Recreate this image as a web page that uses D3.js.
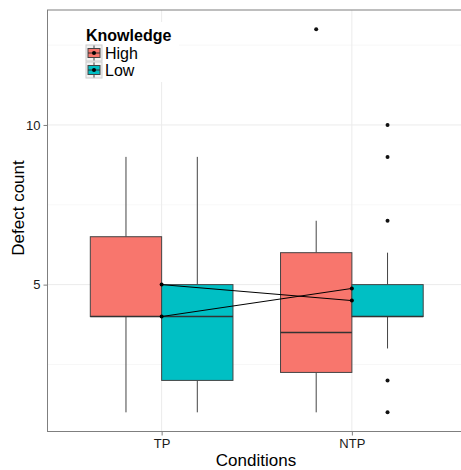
<!DOCTYPE html>
<html>
<head>
<meta charset="utf-8">
<script src="https://cdn.jsdelivr.net/npm/d3@7"></script>
<style>
  body { margin: 0; background: #fff; }
  svg { font-family: "Liberation Sans", Arial, Helvetica, sans-serif; }
</style>
</head>
<body>
<svg id="chart"></svg>
<script>
// categories and groups
const conditions = ["TP", "NTP"];
const knowledge = ["High", "Low"];

// box stats per condition: [lower whisker, q1, median, q3, upper whisker]
const highBoxes = [[1, 4, 4, 6.5, 9], [1, 2.25, 3.5, 6, 7]];
const lowBoxes = [[1, 2, 4, 5, 9], [3, 4, 4, 5, 6]];

// outliers per condition
const highOutliers = [[], [13]];
const lowOutliers = [[], [1, 2, 7, 9, 10]];

// group means per condition
const highMeans = [5, 4.5];
const lowMeans = [4, 4.88];

const yTicks = [5, 10];
const colors = ["#F8766D", "#00BFC4"];

const width = 461, height = 470;
const margin = {top: 10, right: -5, bottom: 38.5, left: 47.5};
const innerW = width - margin.left - margin.right;
const innerH = height - margin.top - margin.bottom;

// table built from the arrays above
const boxData = [];
conditions.forEach((c, i) => {
    [highBoxes, lowBoxes].forEach((arr, k) => {
        const s = arr[i];
        boxData.push({
            condition: c, group: knowledge[k],
            lo: s[0], q1: s[1], med: s[2], q3: s[3], hi: s[4],
            outliers: [highOutliers, lowOutliers][k][i]
        });
    });
});
const meanData = knowledge.map((g, k) => ({
    group: g,
    values: conditions.map((c, i) => ({condition: c, mean: [highMeans, lowMeans][k][i]}))
}));

const svg = d3.select("#chart")
    .attr("width", width)
    .attr("height", height);

const x = d3.scalePoint()
    .domain(conditions)
    .range([0, innerW])
    .padding(0.6);

const dodge = d3.scaleBand()
    .domain(knowledge)
    .range([-0.375 * x.step(), 0.375 * x.step()]);

const y = d3.scaleLinear()
    .domain([0.4, 13.6])
    .range([innerH, 0]);

const color = d3.scaleOrdinal().domain(knowledge).range(colors);

const chart = svg.append("g")
    .attr("transform", `translate(${margin.left},${margin.top})`);

// minor + major grid
const minor = [2.5, 7.5, 12.5];
chart.append("g").selectAll("line")
    .data(minor)
    .join("line")
    .attr("x1", 0).attr("x2", innerW)
    .attr("y1", d => y(d)).attr("y2", d => y(d))
    .attr("stroke", "#f5f5f5").attr("stroke-width", 0.8);

chart.append("g").selectAll("line")
    .data(yTicks)
    .join("line")
    .attr("x1", 0).attr("x2", innerW)
    .attr("y1", d => y(d)).attr("y2", d => y(d))
    .attr("stroke", "#ebebeb").attr("stroke-width", 1);

chart.append("g").selectAll("line")
    .data(conditions)
    .join("line")
    .attr("x1", d => x(d)).attr("x2", d => x(d))
    .attr("y1", 0).attr("y2", innerH)
    .attr("stroke", "#ebebeb").attr("stroke-width", 1);

// boxes
const boxes = chart.append("g").selectAll("g")
    .data(boxData)
    .join("g")
    .attr("transform", d => `translate(${x(d.condition) + dodge(d.group)},0)`);

const bw = dodge.bandwidth();

boxes.append("line")
    .attr("x1", bw / 2).attr("x2", bw / 2)
    .attr("y1", d => y(d.hi)).attr("y2", d => y(d.q3))
    .attr("stroke", "#444").attr("stroke-width", 1);

boxes.append("line")
    .attr("x1", bw / 2).attr("x2", bw / 2)
    .attr("y1", d => y(d.q1)).attr("y2", d => y(d.lo))
    .attr("stroke", "#444").attr("stroke-width", 1);

boxes.append("rect")
    .attr("x", 0)
    .attr("width", bw)
    .attr("y", d => y(d.q3))
    .attr("height", d => y(d.q1) - y(d.q3))
    .attr("fill", d => color(d.group))
    .attr("stroke", "#444").attr("stroke-width", 1);

boxes.append("line")
    .attr("x1", 0).attr("x2", bw)
    .attr("y1", d => y(d.med)).attr("y2", d => y(d.med))
    .attr("stroke", "#333").attr("stroke-width", 1.4);

boxes.selectAll("circle")
    .data(d => d.outliers)
    .join("circle")
    .attr("cx", bw / 2)
    .attr("cy", d => y(d))
    .attr("r", 2)
    .attr("fill", "#111");

// mean lines and points
const line = d3.line()
    .x(d => x(d.condition))
    .y(d => y(d.mean));

chart.append("g").selectAll("path")
    .data(meanData)
    .join("path")
    .attr("d", d => line(d.values))
    .attr("fill", "none")
    .attr("stroke", "#000").attr("stroke-width", 1);

chart.append("g").selectAll("circle")
    .data(meanData.flatMap(d => d.values))
    .join("circle")
    .attr("cx", d => x(d.condition))
    .attr("cy", d => y(d.mean))
    .attr("r", 2)
    .attr("fill", "#000");

// panel border
chart.append("rect")
    .attr("width", innerW).attr("height", innerH)
    .attr("fill", "none")
    .attr("stroke", "#7f7f7f").attr("stroke-width", 1);

// axes
const yAxis = chart.append("g")
    .call(d3.axisLeft(y).tickValues(yTicks).tickSize(4).tickPadding(3))
    .call(g => g.select(".domain").remove());
yAxis.selectAll(".tick line").attr("stroke", "#7f7f7f");
yAxis.selectAll(".tick text")
    .attr("font-size", 13).attr("fill", "#1a1a1a")
    .style("font-family", "Liberation Sans, Arial, sans-serif");

const xAxis = chart.append("g")
    .attr("transform", `translate(0,${innerH})`)
    .call(d3.axisBottom(x).tickSize(4).tickPadding(3))
    .call(g => g.select(".domain").remove());
xAxis.selectAll(".tick line").attr("stroke", "#7f7f7f");
xAxis.selectAll(".tick text")
    .attr("font-size", 13).attr("fill", "#1a1a1a")
    .style("font-family", "Liberation Sans, Arial, sans-serif");

svg.append("text")
    .attr("x", 256).attr("y", 466)
    .attr("text-anchor", "middle")
    .attr("font-size", 17)
    .text("Conditions");

svg.append("text")
    .attr("transform", "translate(24,208) rotate(-90)")
    .attr("text-anchor", "middle")
    .attr("font-size", 17)
    .text("Defect count");

// legend
const legend = svg.append("g").attr("transform", "translate(83,22)");
legend.append("rect")
    .attr("x", 0).attr("y", 0).attr("width", 96).attr("height", 60)
    .attr("fill", "#fff");
legend.append("text")
    .attr("x", 3).attr("y", 19)
    .attr("font-size", 16).attr("font-weight", "bold")
    .text("Knowledge");

const keys = legend.selectAll(".key")
    .data(knowledge)
    .join("g")
    .attr("class", "key")
    .attr("transform", (d, i) => `translate(3,${23 + i * 17})`);

keys.append("rect")
    .attr("width", 16).attr("height", 16)
    .attr("fill", "#f2f2f2")
    .attr("stroke", "#cccccc").attr("stroke-width", 1);
keys.append("line")
    .attr("x1", 8).attr("x2", 8).attr("y1", 0.5).attr("y2", 15.5)
    .attr("stroke", "#444");
keys.append("rect")
    .attr("x", 2).attr("y", 3.5).attr("width", 12).attr("height", 9)
    .attr("fill", d => color(d))
    .attr("stroke", "#444").attr("stroke-width", 1);
keys.append("line")
    .attr("x1", 2).attr("x2", 14).attr("y1", 8).attr("y2", 8)
    .attr("stroke", "#333");
keys.append("circle")
    .attr("cx", 8).attr("cy", 8).attr("r", 2)
    .attr("fill", "#000");
keys.append("text")
    .attr("x", 19).attr("y", 14)
    .attr("font-size", 16)
    .text(d => d);
</script>
</body>
</html>
